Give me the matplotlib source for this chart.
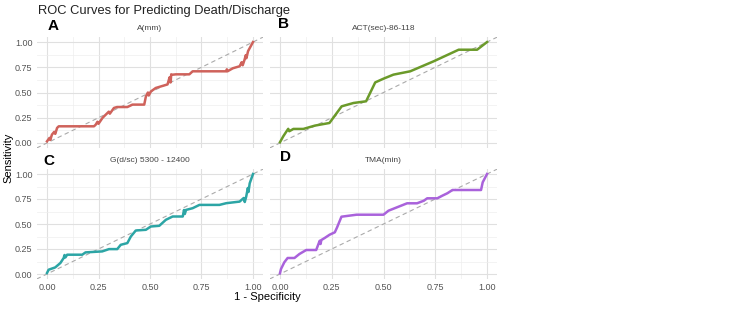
import matplotlib
matplotlib.use("Agg")
import matplotlib.pyplot as plt

plt.rcParams['font.family'] = ['Liberation Sans', 'DejaVu Sans']

# Datos (1 - especificidad, sensibilidad)
a_fpr = [0, 0.012, 0.016, 0.024, 0.035, 0.04, 0.049, 0.057, 0.12, 0.228, 0.236, 0.245, 0.25,
         0.27, 0.285, 0.30, 0.305, 0.325, 0.34, 0.39, 0.415, 0.472, 0.48, 0.49, 0.494, 0.504,
         0.528, 0.585, 0.595, 0.60, 0.603, 0.608, 0.626, 0.691, 0.707, 0.87, 0.873, 0.876,
         0.902, 0.935, 0.945, 0.95, 0.959, 0.965, 0.968, 0.976, 1.0]
a_tpr = [0.016, 0.05, 0.03, 0.083, 0.11, 0.09, 0.149, 0.165, 0.165, 0.165, 0.18, 0.21, 0.19,
         0.25, 0.28, 0.31, 0.29, 0.347, 0.356, 0.356, 0.38, 0.38, 0.46, 0.50, 0.47, 0.51,
         0.545, 0.58, 0.65, 0.60, 0.68, 0.676, 0.68, 0.68, 0.71, 0.71, 0.73, 0.71,
         0.74, 0.76, 0.80, 0.77, 0.825, 0.87, 0.84, 0.91, 1.0]

b_fpr = [0, 0.016, 0.032, 0.04, 0.045, 0.065, 0.113, 0.169, 0.239, 0.298, 0.355, 0.416, 0.46,
         0.5, 0.548, 0.629, 0.742, 0.863, 0.952, 1.0]
b_tpr = [0.007, 0.066, 0.116, 0.14, 0.116, 0.139, 0.139, 0.172, 0.198, 0.363, 0.396, 0.413, 0.60,
         0.637, 0.677, 0.71, 0.809, 0.924, 0.924, 1.0]

c_fpr = [0, 0.008, 0.04, 0.065, 0.081, 0.085, 0.089, 0.098, 0.171, 0.187, 0.268, 0.301, 0.341,
         0.358, 0.39, 0.407, 0.431, 0.48, 0.504, 0.545, 0.577, 0.61, 0.659, 0.665, 0.669,
         0.675, 0.707, 0.74, 0.837, 0.87, 0.935, 0.955, 0.96, 0.967, 0.975, 0.978, 0.984, 1.0]
c_tpr = [0.01, 0.043, 0.066, 0.11, 0.16, 0.19, 0.165, 0.193, 0.193, 0.216, 0.226, 0.249, 0.249,
         0.292, 0.309, 0.375, 0.435, 0.442, 0.475, 0.482, 0.542, 0.575, 0.575, 0.64, 0.60,
         0.641, 0.658, 0.691, 0.691, 0.708, 0.724, 0.76, 0.72, 0.774, 0.86, 0.82, 0.907, 1.0]

d_fpr = [0, 0.005, 0.021, 0.037, 0.07, 0.094, 0.127, 0.175, 0.192, 0.196, 0.2, 0.216, 0.24,
         0.265, 0.276, 0.297, 0.37, 0.5, 0.524, 0.614, 0.662, 0.695, 0.711, 0.76, 0.784,
         0.808, 0.833, 0.971, 0.979, 1.0]
d_tpr = [0.007, 0.05, 0.117, 0.16, 0.16, 0.2, 0.24, 0.24, 0.333, 0.30, 0.34, 0.36, 0.393,
         0.417, 0.467, 0.573, 0.593, 0.593, 0.633, 0.707, 0.707, 0.733, 0.757, 0.757, 0.783,
         0.807, 0.84, 0.84, 0.917, 1.0]

paneles = [
    {'letra': 'A', 'titulo': 'A(mm)', 'x': a_fpr, 'y': a_tpr, 'color': '#CF625B'},
    {'letra': 'B', 'titulo': 'ACT(sec)-86-118', 'x': b_fpr, 'y': b_tpr, 'color': '#6B9A2A'},
    {'letra': 'C', 'titulo': 'G(d/sc) 5300 - 12400', 'x': c_fpr, 'y': c_tpr, 'color': '#2CA5A5'},
    {'letra': 'D', 'titulo': 'TMA(min)', 'x': d_fpr, 'y': d_tpr, 'color': '#A962DB'},
]
ticks = [0, 0.25, 0.5, 0.75, 1.0]
tick_labels = ['0.00', '0.25', '0.50', '0.75', '1.00']

W, H = 750, 314
fig = plt.figure(figsize=(7.5, 3.14), dpi=100)

# posiciones en píxeles: (izq, arriba, ancho, alto)
cajas = [(36.7, 37, 226.6, 111), (269.6, 37, 227.8, 111),
         (36.7, 169, 226.6, 110), (269.6, 169, 227.8, 110)]

for i, (p, (l, t, w, h)) in enumerate(zip(paneles, cajas)):
    ax = fig.add_axes([l / W, (H - t - h) / H, w / W, h / H])
    ax.set_xlim(-0.05, 1.05)
    ax.set_ylim(-0.05, 1.05)
    for s in ax.spines.values():
        s.set_visible(False)
    ax.set_xticks(ticks)
    ax.set_yticks(ticks)
    ax.set_xticks([0.125, 0.375, 0.625, 0.875], minor=True)
    ax.set_yticks([0.125, 0.375, 0.625, 0.875], minor=True)
    ax.grid(True, which='major', color='#E0E0E0', lw=0.8)
    ax.grid(True, which='minor', color='#EEEEEE', lw=0.5)
    ax.set_axisbelow(True)
    ax.tick_params(which='both', length=0, labelsize=6.5, labelcolor='#555555', pad=3)
    if i % 2 == 0:
        ax.set_yticklabels(tick_labels)
    else:
        ax.set_yticklabels([])
    if i >= 2:
        ax.set_xticklabels(tick_labels)
    else:
        ax.set_xticklabels([])
    ax.plot([-0.05, 1.05], [-0.05, 1.05], ls=(0, (4, 3)), color='#AAAAAA', lw=0.8)
    ax.plot(p['x'], p['y'], color=p['color'], lw=1.8, solid_joinstyle='round')
    ax.set_title(p['titulo'], fontsize=6, color='#444444', pad=5)

# letras de los paneles
fig.text(48 / W, 1 - 26 / H, 'A', fontsize=11, fontweight='bold', va='center')
fig.text(278 / W, 1 - 24 / H, 'B', fontsize=11, fontweight='bold', va='center')
fig.text(43 / W, 1 - 161 / H, 'C', fontsize=11, fontweight='bold', va='center')
fig.text(280 / W, 1 - 157 / H, 'D', fontsize=11, fontweight='bold', va='center')

fig.text(38 / W, 1 - 11 / H, 'ROC Curves for Predicting Death/Discharge', fontsize=9.3,
         va='center', color='#222222')
fig.text(267 / W, 1 - 297 / H, '1 - Specificity', fontsize=8, ha='center', va='center')
fig.text(8 / W, 1 - 158 / H, 'Sensitivity', fontsize=8, rotation=90, ha='center', va='center')

fig.savefig('out.png', dpi=100, facecolor='white')
